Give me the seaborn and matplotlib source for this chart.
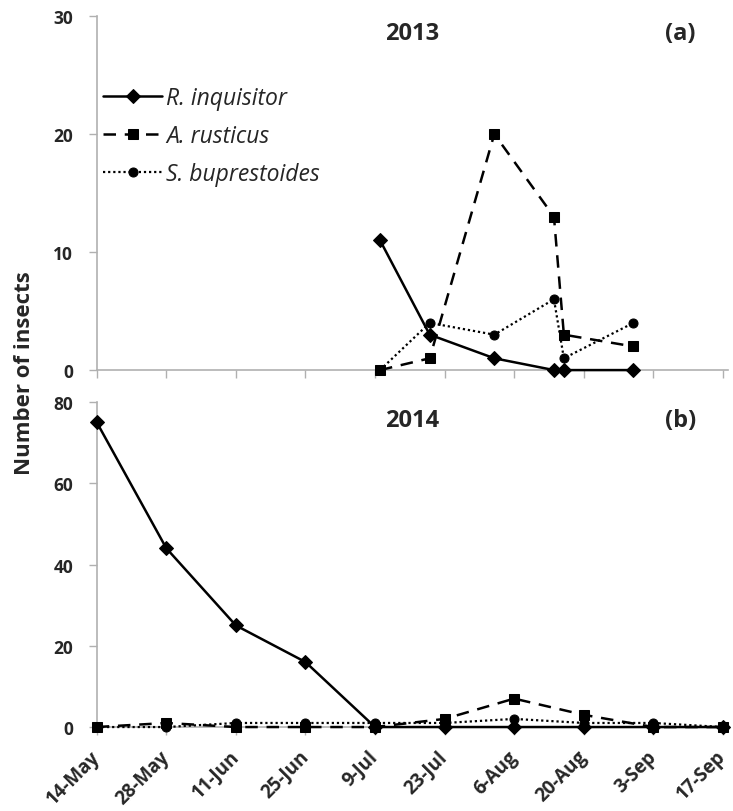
import numpy as np
import pandas as pd
import matplotlib.pyplot as plt
import seaborn as sns

sns.set_style("white")
plt.rcParams["font.family"] = ["Open Sans", "DejaVu Sans"]

# %%
dates_2013 = ["10-Jul", "20-Jul", "2-Aug", "14-Aug", "16-Aug", "30-Aug"]
r_inq_2013 = [11, 3, 1, 0, 0, 0]
a_rus_2013 = [0, 1, 20, 13, 3, 2]
s_bup_2013 = [0, 4, 3, 6, 1, 4]

dates_2014 = ["14-May", "28-May", "11-Jun", "25-Jun", "9-Jul",
              "23-Jul", "6-Aug", "20-Aug", "3-Sep", "17-Sep"]
r_inq_2014 = [75, 44, 25, 16, 0, 0, 0, 0, 0, 0]
a_rus_2014 = [0, 1, 0, 0, 0, 2, 7, 3, 0, 0]
s_bup_2014 = [0, 0, 1, 1, 1, 1, 2, 1, 1, 0]

tick_labels = dates_2014
species = ["R. inquisitor", "A. rusticus", "S. buprestoides"]


def to_date(lst):
    return pd.to_datetime(lst, format="%d-%b")


styles = {
    "R. inquisitor": dict(marker="D", markersize=7.5, linestyle="-", linewidth=1.8, zorder=5),
    "A. rusticus": dict(marker="s", markersize=6.5, dashes=(5, 3.5), linewidth=1.8, zorder=4),
    "S. buprestoides": dict(marker="o", markersize=6.5, dashes=(1, 1.3), linewidth=1.6, zorder=3),
}

# %%
fig = plt.figure(figsize=(7.33, 8.12), dpi=100)
ax1 = fig.add_axes([0.132, 0.543, 0.861, 0.436])
ax2 = fig.add_axes([0.132, 0.1034, 0.861, 0.4003])

for ax, dates, series in [
    (ax1, dates_2013, [r_inq_2013, a_rus_2013, s_bup_2013]),
    (ax2, dates_2014, [r_inq_2014, a_rus_2014, s_bup_2014]),
]:
    x = to_date(dates)
    for name, vals in zip(species, series):
        sns.lineplot(x=x, y=vals, ax=ax, color="black", label=name,
                     markeredgecolor="black", clip_on=False, **styles[name])

ticks = to_date(tick_labels)
for ax in [ax1, ax2]:
    ax.set_xlim(ticks[0], ticks[-1] + pd.Timedelta(days=1))
    ax.set_xticks(ticks)
    for s in ["top", "right"]:
        ax.spines[s].set_visible(False)
    for s in ["left", "bottom"]:
        ax.spines[s].set_color("#b0b0b0")
        ax.spines[s].set_linewidth(1.2)
        ax.spines[s].set_zorder(1)
    ax.tick_params(axis="both", direction="out", length=6, width=1.0,
                   color="#b0b0b0", labelsize=12.5, bottom=True, left=True)
    ax.tick_params(axis="y", pad=11)
    ax.tick_params(axis="x", pad=13)
    ax.set_xlabel("")
    ax.set_ylabel("")

ax1.set_ylim(0, 30)
ax1.set_yticks([0, 10, 20, 30])
ax1.set_xticklabels([])
ax2.set_ylim(0, 80)
ax2.set_yticks([0, 20, 40, 60, 80])
ax2.set_xticklabels(tick_labels, rotation=45, ha="right", va="center",
                    rotation_mode="anchor", fontweight="bold", fontsize=13.5)
for ax in [ax1, ax2]:
    for lbl in ax.get_yticklabels():
        lbl.set_fontweight("bold")

ax1.text(0.5, 0.985, "2013", transform=ax1.transAxes, ha="center",
         va="top", fontsize=17, fontweight="bold")
ax1.text(0.925, 0.985, "(a)", transform=ax1.transAxes, ha="center",
         va="top", fontsize=17, fontweight="bold")
ax2.text(0.5, 0.98, "2014", transform=ax2.transAxes, ha="center",
         va="top", fontsize=17, fontweight="bold")
ax2.text(0.925, 0.98, "(b)", transform=ax2.transAxes, ha="center",
         va="top", fontsize=17, fontweight="bold")

leg = ax1.legend(loc="upper left", bbox_to_anchor=(-0.023, 0.86), frameon=False,
                 handlelength=2.6, numpoints=1, labelspacing=0.6,
                 handletextpad=0.15, prop={"style": "italic", "size": 16.5})
ax2.get_legend().remove()

fig.text(0.034, 0.54, "Number of insects", rotation=90, ha="center",
         va="center", fontsize=16, fontweight="bold")

plt.savefig("out.png", dpi=100)
